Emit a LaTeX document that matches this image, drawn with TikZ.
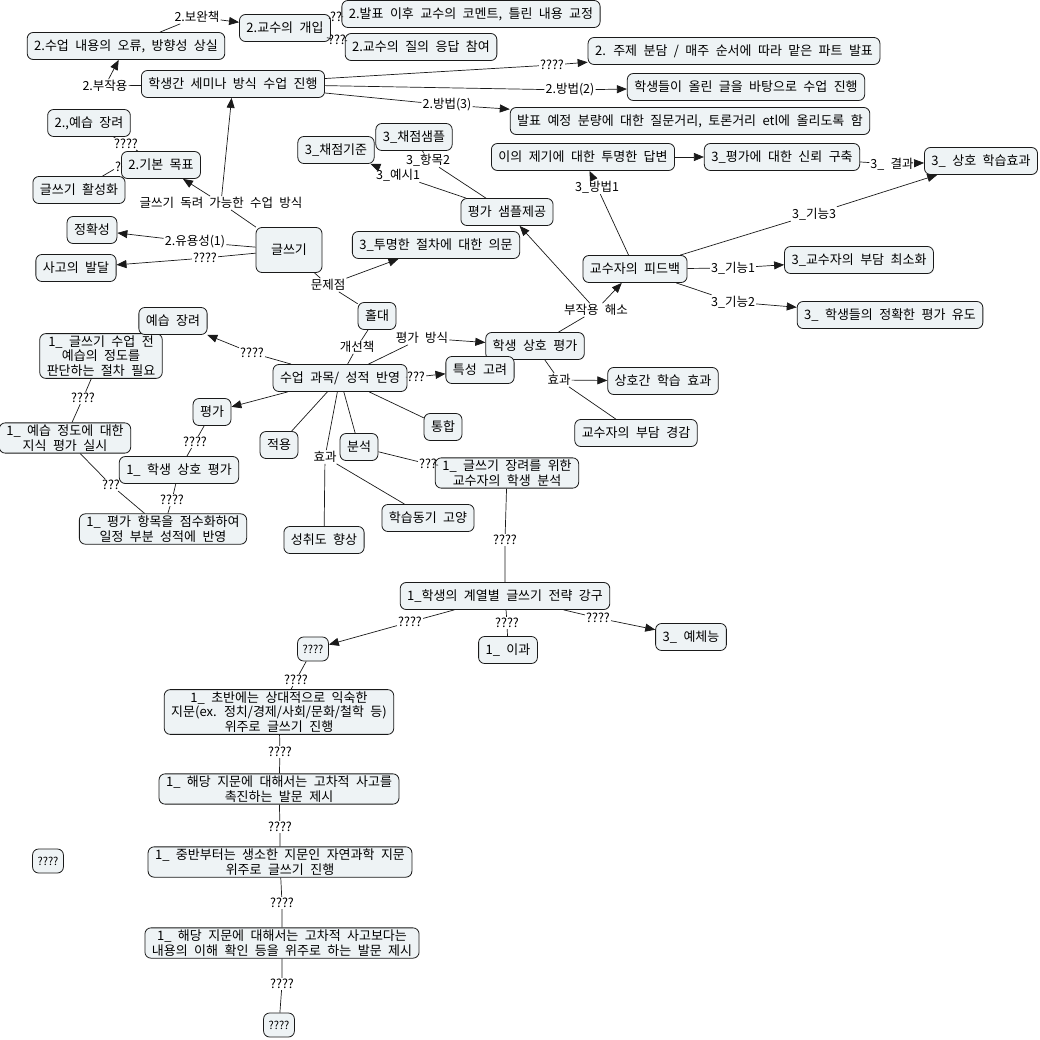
\documentclass[tikz,border=0pt]{standalone}
\usepackage{fontspec}
\setmainfont[WordSpace=2.2]{Noto Sans CJK KR}
\usetikzlibrary{arrows.meta,positioning,backgrounds}
\definecolor{cmink}{HTML}{1A1A1A}
\definecolor{cmfill}{HTML}{EEF3F5}
\tikzset{
  cmnode/.style={draw=cmink, fill=cmfill, rounded corners=6pt, inner xsep=7pt, inner ysep=2pt,
                 minimum height=27pt, line width=0.8pt, align=center,
                 font=\fontsize{13}{14.5}\selectfont},
  cmsmall/.style={cmnode, minimum height=24pt, inner xsep=5pt, font=\fontsize{11}{12}\selectfont},
  cmlink/.style={fill=white, inner sep=1pt, font=\fontsize{12.5}{13}\selectfont},
  cmline/.style={draw=cmink, line width=0.7pt},
  cmarrow/.style={cmline, -{Triangle[length=10pt,width=8pt]}},
}
\begin{document}
\begin{tikzpicture}[x=1pt,y=-1pt]
  \fill[white] (0,0) rectangle (1040,1040);
  \useasboundingbox (0,0) rectangle (1040,1040);
  % linking phrases
  \node[cmlink] (l_side) at (105,86)  {2.부작용};
  \node[cmlink] (l_comp) at (197,17)  {2.보완책};
  \node[cmlink] (l_cmt)  at (336,17)  {??};
  \node[cmlink] (l_qa)   at (337,40)  {???};
  \node[cmlink] (l_m1)   at (552,65)  {????};
  \node[cmlink] (l_m2)   at (570,90)  {2.방법(2)};
  \node[cmlink] (l_m3)   at (447,105) {2.방법(3)};
  \node[cmlink] (l_way)  at (221,203) {글쓰기 독려 가능한 수업 방식};
  \node[cmlink] (l_g1)   at (126,144) {????};
  \node[cmlink] (l_g2)   at (118,167) {?};
  \node[cmlink] (l_use)  at (195,242) {2.유용성(1)};
  \node[cmlink] (l_think) at (205,258) {????};
  \node[cmlink] (l_prob) at (328,285) {문제점};
  \node[cmlink] (l_imp)  at (357,347) {개선책};
  \node[cmlink] (l_way2) at (422,338) {평가 방식};
  \node[cmlink] (l_trait) at (416,377) {???};
  \node[cmlink] (l_prep) at (252,353) {????};
  \node[cmlink] (l_eff)  at (325,457) {효과};
  \node[cmlink] (l_anal) at (428,464) {???};
  \node[cmlink] (l_str)  at (505,540) {????};
  \node[cmlink] (l_q1)   at (410,622) {????};
  \node[cmlink] (l_sci)  at (507,623) {????};
  \node[cmlink] (l_arts) at (598,618) {????};
  \node[cmlink] (l_early) at (296,680) {????};
  \node[cmlink] (l_higher) at (280,752) {????};
  \node[cmlink] (l_mid)  at (280,827) {????};
  \node[cmlink] (l_cont) at (282,903) {????};
  \node[cmlink] (l_end)  at (282,984) {????};
  \node[cmlink] (l_know) at (83,398)  {????};
  \node[cmlink] (l_peer1) at (195,442) {????};
  \node[cmlink] (l_score) at (111,485) {???};
  \node[cmlink] (l_score2) at (172,500) {????};
  \node[cmlink] (l_fix)  at (596,310) {부작용 해소};
  \node[cmlink] (l_eff2) at (559,380) {효과};
  \node[cmlink] (l_meth1) at (597,187) {3\_방법1};
  \node[cmlink] (l_res)  at (892,164) {3\_ 결과};
  \node[cmlink] (l_f3)   at (814,214) {3\_기능3};
  \node[cmlink] (l_f1)   at (733,268) {3\_기능1};
  \node[cmlink] (l_f2)   at (733,302) {3\_기능2};
  \node[cmlink] (l_ex1)  at (398,175) {3\_예시1};
  \node[cmlink] (l_it2)  at (428,160) {3\_항목2};
  % concepts
  \node[cmnode] (err)     at (126,46)  {2.수업 내용의 오류, 방향성 상실};
  \node[cmnode] (prof)    at (285,28)  {2.교수의 개입};
  \node[cmnode] (comment) at (471,14)  {2.발표 이후 교수의 코멘트, 틀린 내용 교정};
  \node[cmnode] (qa)      at (421,47)  {2.교수의 질의 응답 참여};
  \node[cmnode] (seminar) at (233,84)  {학생간 세미나 방식 수업 진행};
  \node[cmnode] (topic)   at (734,51)  {2. 주제 분담 / 매주 순서에 따라 맡은 파트 발표};
  \node[cmnode] (post)    at (746,87)  {학생들이 올린 글을 바탕으로 수업 진행};
  \node[cmnode] (etl)     at (690,121) {발표 예정 분량에 대한 질문거리, 토론거리 etl에 올리도록 함};
  \node[cmnode] (answer)  at (583,157) {이의 제기에 대한 투명한 답변};
  \node[cmnode] (trust)   at (782,157) {3\_평가에 대한 신뢰 구축};
  \node[cmnode] (mutual)  at (981,161) {3\_ 상호 학습효과};
  \node[cmnode] (prep2)   at (89,123)  {2.,예습 장려};
  \node[cmnode] (active)  at (79,190)  {글쓰기 활성화};
  \node[cmnode] (goal)    at (161,165) {2.기본 목표};
  \node[cmnode] (crit)    at (336,150) {3\_채점기준};
  \node[cmnode] (sample)  at (414,137) {3\_채점샘플};
  \node[cmnode] (provide) at (507,212) {평가 샘플제공};
  \node[cmnode] (acc)     at (92,230)  {정확성};
  \node[cmnode] (think)   at (76,268)  {사고의 발달};
  \node[cmnode, minimum width=66pt, minimum height=45pt] (write) at (289,250) {글쓰기};
  \node[cmnode] (doubt)   at (436,245) {3\_투명한 절차에 대한 의문};
  \node[cmnode] (feedback) at (635,269) {교수자의 피드백};
  \node[cmnode] (burden)  at (859,260) {3\_교수자의 부담 최소화};
  \node[cmnode] (accurate) at (890,315) {3\_ 학생들의 정확한 평가 유도};
  \node[cmnode] (hold)    at (377,316) {홀대};
  \node[cmnode] (prejudge) at (101,356) {1\_ 글쓰기 수업 전\\예습의 정도를\\판단하는 절차 필요};
  \node[cmnode] (prep)    at (173,321) {예습 장려};
  \node[cmnode] (subject) at (340,378) {수업 과목/ 성적 반영};
  \node[cmnode] (peer)    at (535,346) {학생 상호 평가};
  \node[cmnode] (trait)   at (480,370) {특성 고려};
  \node[cmnode] (learn)   at (663,381) {상호간 학습 효과};
  \node[cmnode] (relief)  at (636,433) {교수자의 부담 경감};
  \node[cmnode] (eval)    at (212,412) {평가};
  \node[cmnode] (knowl)   at (65,438)  {1\_ 예습 정도에 대한\\지식 평가 실시};
  \node[cmnode] (apply)   at (279,445) {적용};
  \node[cmnode] (anal)    at (359,447) {분석};
  \node[cmnode] (integ)   at (443,427) {통합};
  \node[cmnode] (peer1)   at (179,470) {1\_ 학생 상호 평가};
  \node[cmnode] (encour)  at (507,473) {1\_ 글쓰기 장려를 위한\\교수자의 학생 분석};
  \node[cmnode] (score)   at (163,529) {1\_ 평가 항목을 점수화하여\\일정 부분 성적에 반영};
  \node[cmnode] (motiv)   at (428,518) {학습동기 고양};
  \node[cmnode] (achieve) at (324,540) {성취도 향상};
  \node[cmnode] (strategy) at (505,596) {1\_학생의 계열별 글쓰기 전략 강구};
  \node[cmsmall] (q1)     at (313,649) {????};
  \node[cmnode] (sci)     at (508,650) {1\_ 이과};
  \node[cmnode] (arts)    at (691,637) {3\_ 예체능};
  \node[cmnode] (early)   at (279,712) {1\_ 초반에는 상대적으로 익숙한\\지문(ex. 정치/경제/사회/문화/철학 등)\\위주로 글쓰기 진행};
  \node[cmnode] (higher)  at (279,789) {1\_ 해당 지문에 대해서는 고차적 사고를\\촉진하는 발문 제시};
  \node[cmnode] (mid)     at (280,862) {1\_ 중반부터는 생소한 지문인 자연과학 지문\\위주로 글쓰기 진행};
  \node[cmnode] (content) at (282,943) {1\_ 해당 지문에 대해서는 고차적 사고보다는\\내용의 이해 확인 등을 위주로 하는 발문 제시};
  \node[cmsmall] (q2)     at (279,1025) {????};
  \node[cmsmall] (q3)     at (48,861)  {????};
  % connections
  \draw[cmline] (seminar) -- (l_side);  \draw[cmarrow] (l_side) -- (err);
  \draw[cmline] (err) -- (l_comp);      \draw[cmarrow] (l_comp) -- (prof);
  \draw[cmline] (prof) -- (l_cmt) -- (comment);
  \draw[cmline] (prof) -- (l_qa) -- (qa);
  \draw[cmline] (seminar) -- (l_m1);    \draw[cmarrow] (l_m1) -- (topic);
  \draw[cmline] (seminar) -- (l_m2);    \draw[cmarrow] (l_m2) -- (post);
  \draw[cmline] (seminar) -- (l_m3);    \draw[cmarrow] (l_m3) -- (etl);
  \draw[cmline] (write) -- (l_way);
  \draw[cmarrow] (l_way) -- (seminar);  \draw[cmarrow] (l_way) -- (goal);
  \draw[cmline] (goal) -- (l_g1) -- (prep2);
  \draw[cmline] (goal) -- (l_g2) -- (active);
  \draw[cmline] (write) -- (l_use);     \draw[cmarrow] (l_use) -- (acc);
  \draw[cmline] (write) -- (l_think);   \draw[cmarrow] (l_think) -- (think);
  \draw[cmline] (write) -- (l_prob);    \draw[cmarrow] (l_prob) -- (doubt);
  \draw[cmline] (l_prob) -- (hold);
  \draw[cmline] (hold) -- (l_imp) -- (subject);
  \draw[cmline] (subject) -- (l_way2);  \draw[cmarrow] (l_way2) -- (peer);
  \draw[cmline] (subject) -- (l_trait); \draw[cmarrow] (l_trait) -- (trait);
  \draw[cmline] (subject) -- (l_prep);  \draw[cmarrow] (l_prep) -- (prep);
  \draw[cmarrow] (subject) -- (eval);
  \draw[cmline] (subject) -- (apply);
  \draw[cmline] (subject) -- (l_eff);
  \draw[cmline] (l_eff) -- (achieve);   \draw[cmline] (l_eff) -- (motiv);
  \draw[cmline] (subject) -- (anal);
  \draw[cmline] (subject) -- (integ);
  \draw[cmline] (anal) -- (l_anal) -- (encour);
  \draw[cmline] (encour) -- (l_str) -- (strategy);
  \draw[cmline] (strategy) -- (l_q1);   \draw[cmarrow] (l_q1) -- (q1);
  \draw[cmline] (strategy) -- (l_sci) -- (sci);
  \draw[cmline] (strategy) -- (l_arts); \draw[cmarrow] (l_arts) -- (arts);
  \draw[cmline] (q1) -- (l_early) -- (early);
  \draw[cmline] (early) -- (l_higher) -- (higher);
  \draw[cmline] (higher) -- (l_mid) -- (mid);
  \draw[cmline] (mid) -- (l_cont) -- (content);
  \draw[cmline] (content) -- (l_end) -- (q2);
  \draw[cmline] (prejudge) -- (l_know) -- (knowl);
  \draw[cmline] (eval) -- (l_peer1) -- (peer1);
  \draw[cmline] (knowl) -- (l_score) -- (score);
  \draw[cmline] (peer1) -- (l_score2) -- (score);
  \draw[cmline] (peer) -- (l_fix);
  \draw[cmarrow] (l_fix) -- (feedback); \draw[cmarrow] (l_fix) -- (provide);
  \draw[cmline] (peer) -- (l_eff2);     \draw[cmarrow] (l_eff2) -- (learn);
  \draw[cmline] (l_eff2) -- (relief);
  \draw[cmline] (feedback) -- (l_meth1); \draw[cmarrow] (l_meth1) -- (answer);
  \draw[cmarrow] (answer) -- (trust);
  \draw[cmline] (trust) -- (l_res);     \draw[cmarrow] (l_res) -- (mutual);
  \draw[cmline] (feedback) -- (l_f3);   \draw[cmarrow] (l_f3) -- (mutual);
  \draw[cmline] (feedback) -- (l_f1);   \draw[cmarrow] (l_f1) -- (burden);
  \draw[cmline] (feedback) -- (l_f2);   \draw[cmarrow] (l_f2) -- (accurate);
  \draw[cmline] (provide) -- (l_ex1);   \draw[cmarrow] (l_ex1) -- (crit);
  \draw[cmline] (provide) -- (l_it2) -- (sample);
\end{tikzpicture}
\end{document}
